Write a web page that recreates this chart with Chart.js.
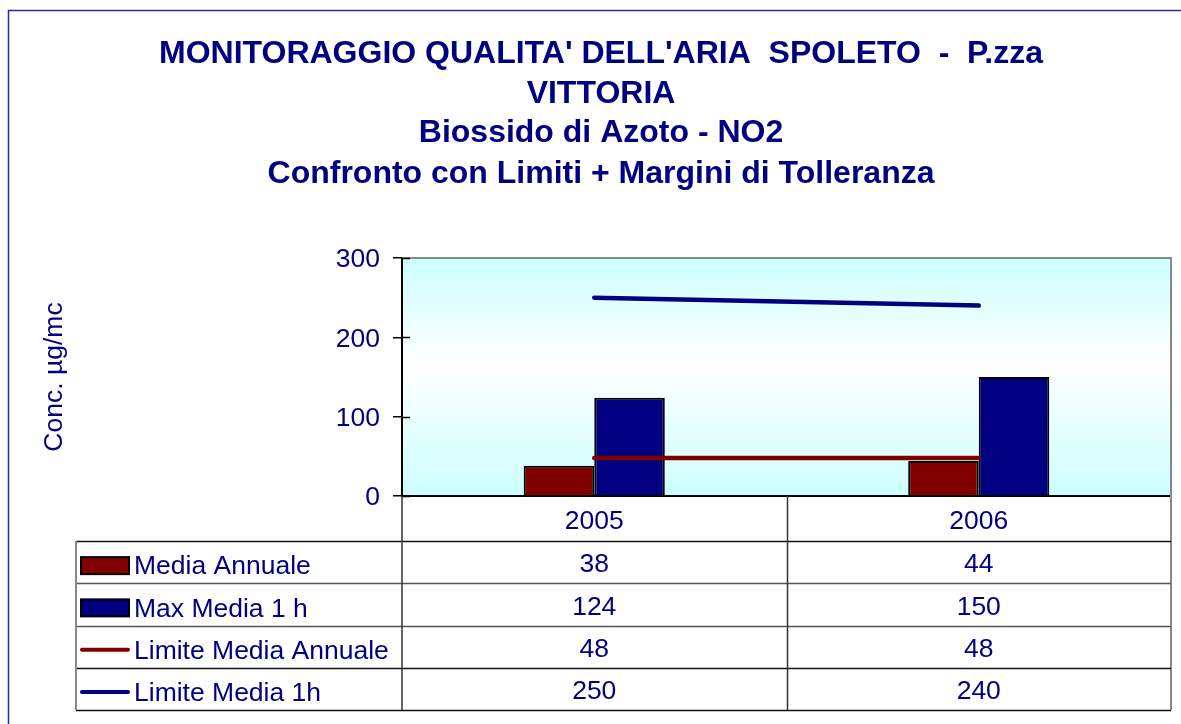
<!DOCTYPE html>
<html><head><meta charset="utf-8">
<script src="https://cdn.jsdelivr.net/npm/chart.js@4"></script>
<style>html,body{margin:0;padding:0;background:#fff;overflow:hidden}canvas{display:block}</style>
</head><body>
<canvas id="c" width="1181" height="724"></canvas>
<script>
const categories = ['2005', '2006'];
const mediaAnnuale = [38, 44];
const maxMedia1h = [124, 150];
const limiteMediaAnnuale = [48, 48];
const limiteMedia1h = [250, 240];
const seriesNames = ['Media Annuale', 'Max Media 1 h', 'Limite Media Annuale', 'Limite Media 1h'];
const titleLines = ["MONITORAGGIO QUALITA' DELL'ARIA  SPOLETO  -  P.zza", "VITTORIA", "Biossido di Azoto - NO2", "Confronto con Limiti + Margini di Tolleranza"];
const yTickValues = [0, 100, 200, 300];
const yTitle = 'Conc. \u00b5g/mc';

const NAVY = '#000080';
const DARKRED = '#800000';
const FAMILY = '"Liberation Sans", Arial, sans-serif';

const decor = {
  id: 'decor',
  beforeDraw(chart) {
    const {ctx, chartArea: a} = chart;
    ctx.save();
    ctx.fillStyle = '#fff';
    ctx.fillRect(0, 0, chart.width, chart.height);
    // outer frame
    ctx.strokeStyle = '#2a2aa8';
    ctx.lineWidth = 1.5;
    ctx.beginPath();
    ctx.moveTo(8.5, chart.height + 5);
    ctx.lineTo(8.5, 10.5);
    ctx.lineTo(chart.width + 5, 10.5);
    ctx.stroke();
    // plot background gradient
    const g = ctx.createLinearGradient(0, a.top, 0, a.bottom);
    g.addColorStop(0, '#ccffff');
    g.addColorStop(0.45, '#ffffff');
    g.addColorStop(1, '#ccffff');
    ctx.fillStyle = g;
    ctx.fillRect(a.left, a.top, a.right - a.left, a.bottom - a.top);
    ctx.restore();
  },
  afterDraw(chart) {
    const {ctx, chartArea: a} = chart;
    const xs = chart.scales.x, ys = chart.scales.y;
    ctx.save();
    // title
    ctx.fillStyle = NAVY;
    ctx.font = 'bold 32px ' + FAMILY;
    ctx.textAlign = 'center';
    ctx.textBaseline = 'middle';
    const tys = [54, 94, 133, 174];
    titleLines.forEach((t, i) => ctx.fillText(t, 601, tys[i]));
    // plot top/right border
    ctx.strokeStyle = '#888';
    ctx.lineWidth = 2;
    ctx.beginPath();
    ctx.moveTo(a.left, a.top);
    ctx.lineTo(a.right, a.top);
    ctx.lineTo(a.right, a.bottom + 214);
    ctx.stroke();
    // inward tick marks
    ctx.strokeStyle = '#000';
    ctx.lineWidth = 1.5;
    yTickValues.forEach(v => {
      const y = Math.round(ys.getPixelForValue(v)) + 0.5;
      ctx.beginPath(); ctx.moveTo(a.left, y); ctx.lineTo(a.left + 8, y); ctx.stroke();
    });
    // data table
    const tableLeft = 76;
    const headerBottom = a.bottom + 45;
    const rowH = 42.25;
    const tableBottom = headerBottom + rowH * 4;
    const mid = (xs.getPixelForValue(0) + xs.getPixelForValue(1)) / 2;
    ctx.lineWidth = 1.5;
    for (let r = 0; r <= 4; r++) {
      const y = Math.round(headerBottom + rowH * r) + 0.5;
      ctx.strokeStyle = (r === 1 || r === 2) ? '#555' : '#111';
      ctx.beginPath(); ctx.moveTo(tableLeft, y); ctx.lineTo(a.right, y); ctx.stroke();
    }
    ctx.strokeStyle = '#333';
    ctx.beginPath(); ctx.moveTo(a.left, a.bottom); ctx.lineTo(a.left, tableBottom); ctx.stroke();
    ctx.beginPath(); ctx.moveTo(Math.round(mid) + 0.5, a.bottom); ctx.lineTo(Math.round(mid) + 0.5, tableBottom); ctx.stroke();
    ctx.strokeStyle = '#888';
    ctx.lineWidth = 2;
    ctx.beginPath(); ctx.moveTo(tableLeft, headerBottom); ctx.lineTo(tableLeft, tableBottom); ctx.stroke();

    const ds = chart.data.datasets;
    ctx.font = '26.5px ' + FAMILY;
    for (let r = 0; r < 4; r++) {
      const cy = headerBottom + rowH * r + rowH / 2;
      const d = ds[r];
      // swatch
      if (d.type === 'bar') {
        ctx.fillStyle = d.backgroundColor;
        ctx.fillRect(81, cy - 5, 48, 17);
        ctx.strokeStyle = '#000';
        ctx.lineWidth = 2;
        ctx.strokeRect(81, cy - 5, 48, 17);
      } else {
        ctx.strokeStyle = d.borderColor;
        ctx.lineWidth = 4;
        ctx.lineCap = 'round';
        ctx.beginPath(); ctx.moveTo(82, cy + 3); ctx.lineTo(128, cy + 3); ctx.stroke();
      }
      ctx.fillStyle = NAVY;
      ctx.textAlign = 'left';
      ctx.textBaseline = 'middle';
      ctx.fillText(d.label, 134, cy + 5);
      ctx.textAlign = 'center';
      d.data.forEach((v, i) => ctx.fillText(String(v), xs.getPixelForValue(i), cy + 3));
    }
    ctx.restore();
  }
};

new Chart(document.getElementById('c'), {
  data: {
    labels: categories,
    datasets: [
      {type: 'bar', label: seriesNames[0], data: mediaAnnuale, backgroundColor: DARKRED, borderColor: '#000', borderWidth: 2, order: 2, barPercentage: 1, categoryPercentage: 0.367},
      {type: 'bar', label: seriesNames[1], data: maxMedia1h, backgroundColor: NAVY, borderColor: '#000', borderWidth: 2, order: 2, barPercentage: 1, categoryPercentage: 0.367},
      {type: 'line', label: seriesNames[2], data: limiteMediaAnnuale, borderColor: DARKRED, backgroundColor: DARKRED, borderWidth: 4.5, pointRadius: 0, borderCapStyle: 'round', order: 1},
      {type: 'line', label: seriesNames[3], data: limiteMedia1h, borderColor: NAVY, backgroundColor: NAVY, borderWidth: 4.5, pointRadius: 0, borderCapStyle: 'round', order: 1}
    ]
  },
  options: {
    responsive: false,
    animation: false,
    layout: {padding: {top: 258, right: 10, left: 0, bottom: 0}},
    plugins: {legend: {display: false}, title: {display: false}, tooltip: {enabled: false}},
    scales: {
      x: {
        grid: {display: false, drawTicks: false},
        border: {display: true, color: '#000', width: 2},
        ticks: {color: NAVY, font: {size: 26.5, family: FAMILY}, padding: 10, maxRotation: 0},
        afterFit(s) { s.height = 228; }
      },
      y: {
        min: 0, max: 300,
        afterBuildTicks(s) { s.ticks = yTickValues.map(v => ({value: v})); },
        ticks: {color: NAVY, font: {size: 26.5, family: FAMILY}, padding: 13, labelOffset: 2},
        grid: {drawOnChartArea: false, tickLength: 9, color: '#000', lineWidth: 1.5},
        border: {color: '#000', width: 2},
        title: {display: true, text: yTitle, color: NAVY, font: {size: 26.5, family: FAMILY}, padding: {top: 39}},
        afterFit(s) { s.width = 402; }
      }
    }
  },
  plugins: [decor]
});
</script>
</body></html>
